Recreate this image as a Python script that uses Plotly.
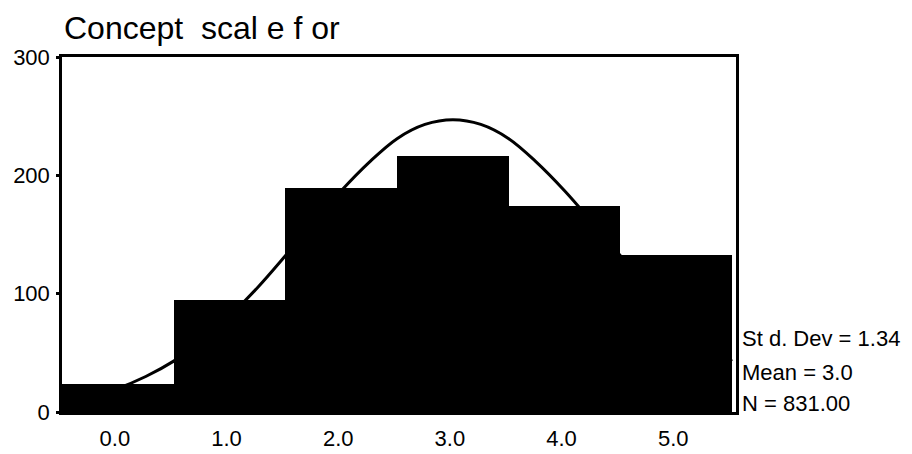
import plotly.graph_objects as go

# Histogram data
bin_centers = [0, 1, 2, 3, 4, 5]
counts = [24, 95, 189, 216, 174, 133]
tick_labels = ["0.0", "1.0", "2.0", "3.0", "4.0", "5.0"]

# Fitted normal curve
curve_x = [-0.5, -0.25, 0.0, 0.25, 0.5, 0.75, 1.0, 1.25, 1.5, 1.75, 2.0, 2.25, 2.5,
           2.75, 3.0, 3.25, 3.5, 3.75, 4.0, 4.25, 4.5, 4.75, 5.0, 5.25, 5.5]
curve_y = [8, 13, 20, 30, 43, 60, 81, 105, 132, 160, 187, 211, 231,
           243, 247, 243, 231, 211, 187, 160, 132, 105, 81, 60, 43]

y_ticks = [0, 100, 200, 300]
title_text = "Concept  scal e f or"
stats_lines = ["St d. Dev = 1.34", "Mean = 3.0", "N = 831.00"]
stats_y = [62, 33, 7]

FONT = "Liberation Sans, Arial, sans-serif"

fig = go.Figure()
fig.add_trace(go.Scatter(x=curve_x, y=curve_y, mode="lines",
                         line=dict(color="black", width=3, shape="spline"),
                         hoverinfo="skip", showlegend=False))
fig.add_trace(go.Bar(x=bin_centers, y=counts, width=1.0,
                     marker=dict(color="black", line=dict(width=0)),
                     showlegend=False))

fig.update_layout(
    width=912, height=454,
    margin=dict(l=62, r=176, t=57, b=42),
    paper_bgcolor="white", plot_bgcolor="white",
    bargap=0,
    font=dict(family=FONT, color="black"),
)
fig.update_xaxes(
    range=[-0.5, 5.535], tickvals=bin_centers, ticktext=tick_labels,
    showgrid=False, zeroline=False, showline=True, linecolor="black", linewidth=2.5,
    mirror=True, ticks="", tickfont=dict(size=22, family=FONT),
    ticklabelstandoff=5, ticklabelshift=-3, automargin=False,
)
fig.update_yaxes(
    range=[0, 300], tickvals=y_ticks,
    showgrid=False, zeroline=False, showline=True, linecolor="black", linewidth=2.5,
    mirror=True, ticks="outside", ticklen=3, tickwidth=3, tickcolor="black",
    tickfont=dict(size=22, family=FONT), ticklabelstandoff=2, automargin=False,
)

fig.add_annotation(text=title_text, xref="paper", yref="paper", x=0.0, y=1.082,
                   xanchor="left", yanchor="middle", showarrow=False,
                   font=dict(size=32, family=FONT, color="black"))
for line, yy in zip(stats_lines, stats_y):
    fig.add_annotation(text=line, xref="paper", yref="y", x=1.0, y=yy, xshift=4,
                       xanchor="left", yanchor="middle", showarrow=False,
                       font=dict(size=22, family=FONT, color="black"))

fig.write_html("out.html")
